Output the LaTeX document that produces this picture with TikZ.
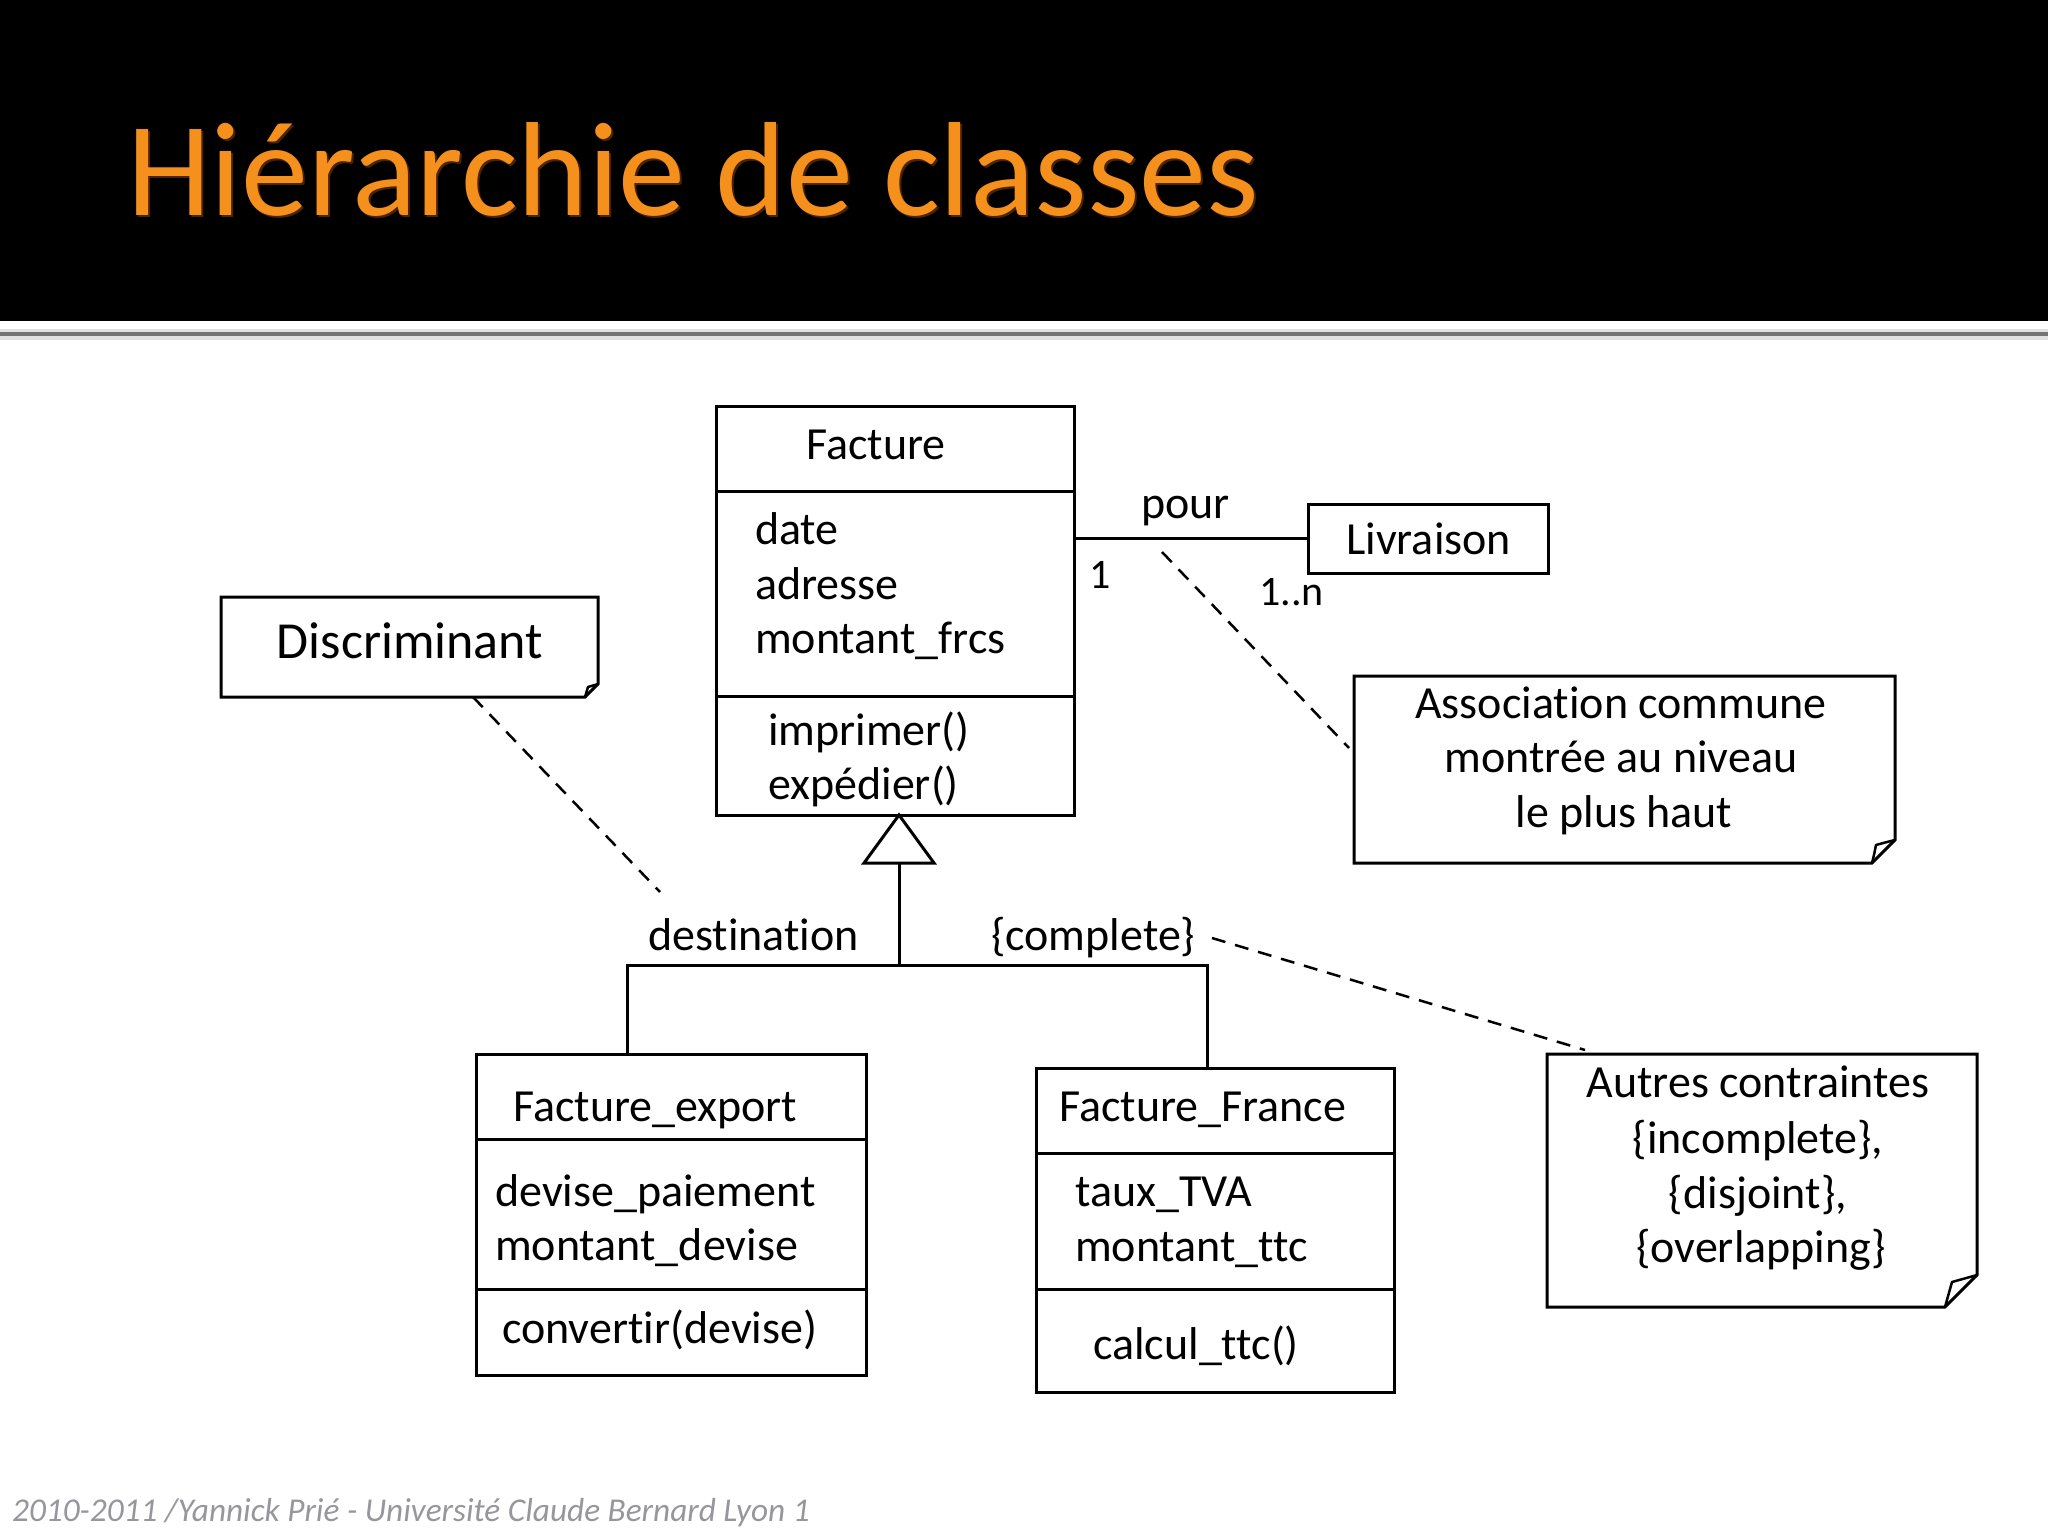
\documentclass[tikz,border=0pt]{standalone}
\usepackage{fontspec}
\setmainfont{Carlito}[RawFeature={-liga;-dlig}]
\usetikzlibrary{calc}
\definecolor{titleorange}{RGB}{246,144,28}
\definecolor{titleglow}{RGB}{150,70,10}
\definecolor{footgray}{RGB}{150,150,156}
\tikzset{
  box/.style={draw, line width=3pt, inner sep=0pt, outer sep=0pt, fill=white, anchor=north west},
  frame/.style={inner sep=0pt, outer sep=0pt, anchor=north west},
  txt/.style={inner sep=0pt, anchor=base west, font=\fontsize{46}{55}\selectfont},
  ctxt/.style={inner sep=0pt, anchor=base, font=\fontsize{46}{55}\selectfont},
  small/.style={inner sep=0pt, anchor=base west, font=\fontsize{42}{50}\selectfont},
  lnk/.style={line width=3pt},
  dashlnk/.style={line width=2.5pt, dash pattern=on 14pt off 10pt},
  notepath/.style={line width=3pt, line join=miter, fill=white},
}
\begin{document}
\begin{tikzpicture}[x=1pt,y=-1pt]
\useasboundingbox (0,0) rectangle (2048,1536);
\fill[white] (0,0) rectangle (2048,1536);
% header
\fill[black] (0,0) rectangle (2048,321);
\fill[black!12] (0,329) rectangle (2048,340);
\fill[black!55] (0,332) rectangle (2048,336);
\node[inner sep=0pt, anchor=base west, text=titleglow, opacity=0.5, font=\fontsize{134}{150}\selectfont] (titleglow) at (129,217) {Hiérarchie de classes};
\node[inner sep=0pt, anchor=base west, text=titleorange, font=\fontsize{134}{150}\selectfont] (title) at (127,215) {Hiérarchie de classes};
% footer
\node[inner sep=0pt, anchor=base west, text=footgray, font=\fontsize{33.3}{38}\selectfont\itshape] (footer) at (12,1521) {2010-2011 /Yannick Prié - Université Claude Bernard Lyon 1};

% Facture class
\node[box, minimum width=358pt, minimum height=409pt] (facture) at (716,406) {};
\draw[lnk] (716,491) -- (1074,491);
\draw[lnk] (716,696) -- (1074,696);
\node[txt] (fname) at (806,459) {Facture};
\node[txt] (fa1) at (755,544) {date};
\node[txt] (fa2) at (755,599) {adresse};
\node[txt] (fa3) at (755,653) {montant\_frcs};
\node[txt] (fo1) at (768,745) {imprimer()};
\node[txt] (fo2) at (768,799) {expédier()};

% Livraison
\node[box, minimum width=240pt, minimum height=69pt] (livraison) at (1308,504) {};
\node[txt] (livtxt) at (1346,554) {Livraison};
\draw[lnk] (facture.east |- livraison.west) -- (livraison.west);
\node[txt] (pour) at (1141,518) {pour};
\node[small] (m1) at (1089,588) {1};
\node[small] (m2) at (1259,605) {1..n};

% Association note
\node[frame, minimum width=541pt, minimum height=187pt] (assocnote) at (1354,676) {};
\draw[notepath] (assocnote.north west) -- (assocnote.north east) -- ($(assocnote.south east)+(0,-23)$) -- ($(assocnote.south east)+(-23,0)$) -- (assocnote.south west) -- cycle;
\draw[line width=2.5pt, line join=round] ($(assocnote.south east)+(-23,0)$) .. controls ($(assocnote.south east)+(-21,-8)$) .. ($(assocnote.south east)+(-19,-18)$) .. controls ($(assocnote.south east)+(-8,-21)$) .. ($(assocnote.south east)+(0,-23)$);
\node[ctxt] (an1) at (1621,718) {Association commune};
\node[ctxt] (an2) at (1621,772) {montrée au niveau};
\node[ctxt] (an3) at (1624,827) {le plus haut};
\coordinate (assocpt) at (1162,552);
\draw[dashlnk] (assocpt) -- ($(assocnote.north west)+(-5,72)$);

% Discriminant note
\node[frame, minimum width=377pt, minimum height=100pt] (disc) at (221,597) {};
\draw[notepath] (disc.north west) -- (disc.north east) -- ($(disc.south east)+(0,-13)$) -- ($(disc.south east)+(-13,0)$) -- (disc.south west) -- cycle;
\draw[line width=2.5pt, line join=round] ($(disc.south east)+(-13,0)$) -- ($(disc.south east)+(-10,-10)$) -- ($(disc.south east)+(0,-13)$);
\node[inner sep=0pt, anchor=base, font=\fontsize{52}{60}\selectfont] (disctxt) at (410,658) {Discriminant};
\coordinate (discend) at (660,892);
\draw[dashlnk] ($(disc.south west)+(252,0)$) -- (discend);

% Generalization
\coordinate (genapex) at (899,815);
\coordinate (genbase) at (899,863);
\coordinate (junction) at (899,965);
\draw[lnk, fill=white, line join=miter] (genapex) -- (934,863) -- (864,863) -- cycle;
\draw[lnk] (genbase) -- (junction);
\coordinate (jL) at (627,965);
\coordinate (jR) at (1207,965);

% Facture_export
\node[box, minimum width=390pt, minimum height=321pt] (export) at (476,1054) {};
\draw[lnk] (476,1139) -- (866,1139);
\draw[lnk] (476,1289) -- (866,1289);
\node[txt] (ename) at (513,1121) {Facture\_export};
\node[txt] (ea1) at (495,1206) {devise\_paiement};
\node[txt] (ea2) at (495,1260) {montant\_devise};
\node[txt] (eo1) at (502,1343) {convertir(devise)};

% Facture_France
\node[box, minimum width=358pt, minimum height=324pt] (france) at (1036,1068) {};
\draw[lnk] (1036,1153) -- (1394,1153);
\draw[lnk] (1036,1289) -- (1394,1289);
\node[txt] (frname) at (1059,1121) {Facture\_France};
\node[txt] (fra1) at (1075,1206) {taux\_TVA};
\node[txt] (fra2) at (1075,1261) {montant\_ttc};
\node[txt] (fro1) at (1093,1359) {calcul\_ttc()};

\draw[lnk, line join=miter] (jL |- export.north) -- (jL) -- (jR) -- (jR |- france.north);
\node[txt] (destination) at (648,950) {destination};
\node[txt] (complete) at (991,950) {\{complete\}};

% Autres note
\node[frame, minimum width=430pt, minimum height=253pt] (autres) at (1547,1054) {};
\draw[notepath] (autres.north west) -- (autres.north east) -- ($(autres.south east)+(0,-32)$) -- ($(autres.south east)+(-32,0)$) -- (autres.south west) -- cycle;
\draw[line width=2.5pt, line join=round] ($(autres.south east)+(-32,0)$) .. controls ($(autres.south east)+(-29,-12)$) .. ($(autres.south east)+(-25,-25)$) .. controls ($(autres.south east)+(-12,-29)$) .. ($(autres.south east)+(0,-32)$);
\node[ctxt] (au1) at (1758,1097) {Autres contraintes};
\node[ctxt] (au2) at (1758,1153) {\{incomplete\},};
\node[ctxt] (au3) at (1758,1208) {\{disjoint\},};
\node[ctxt] (au4) at (1761,1262) {\{overlapping\}};
\coordinate (cstart) at (1212,938);
\draw[dashlnk] (cstart) -- ($(autres.north west)+(38,-4)$);
\end{tikzpicture}
\end{document}
